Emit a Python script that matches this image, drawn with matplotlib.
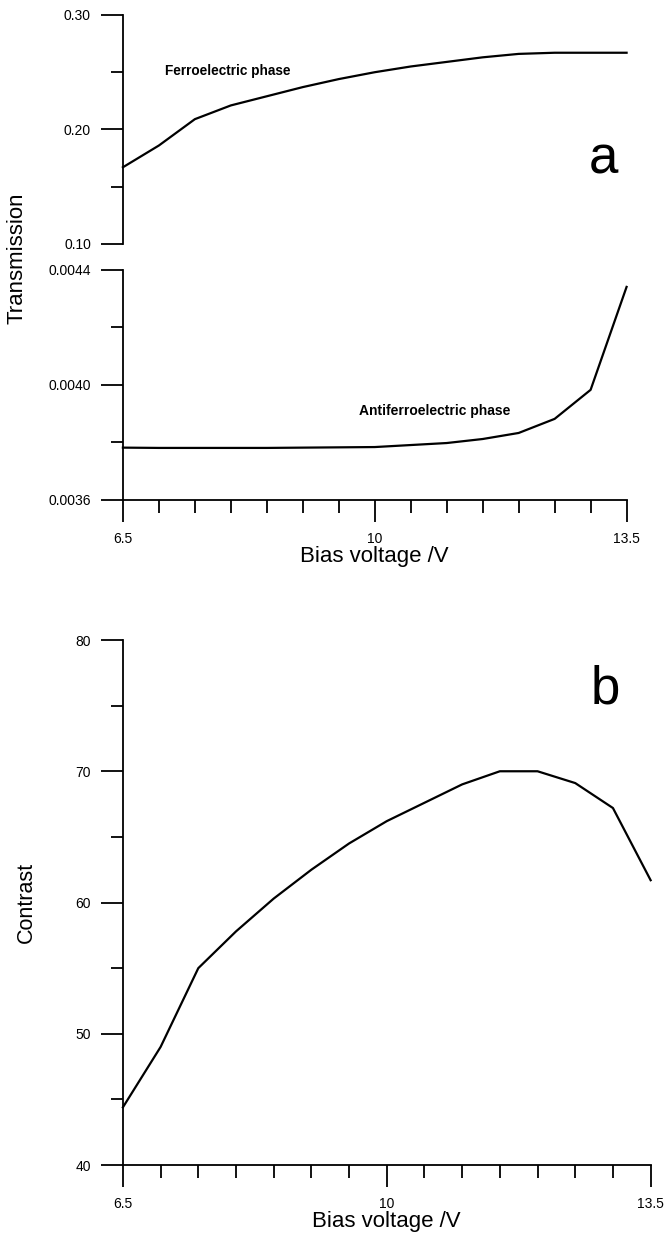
import matplotlib
matplotlib.use('Agg')
import matplotlib.pyplot as plt
from matplotlib.ticker import FixedLocator, MultipleLocator

plt.rcParams['font.family'] = ['Liberation Sans', 'DejaVu Sans']

# bias voltage steps (V)
voltage = [6.5, 7.0, 7.5, 8.0, 8.5, 9.0, 9.5, 10.0, 10.5, 11.0, 11.5, 12.0, 12.5, 13.0, 13.5]

# transmission in the two phases
ferro = [0.167, 0.186, 0.209, 0.221, 0.229, 0.237, 0.244, 0.250, 0.255, 0.259,
         0.263, 0.266, 0.267, 0.267, 0.267]
antiferro = [0.003782, 0.003781, 0.003781, 0.003781, 0.003781, 0.003782, 0.003783, 0.003784,
             0.003791, 0.003798, 0.003812, 0.003833, 0.003882, 0.003983, 0.004341]

# contrast ratio
contrast = [44.4, 49.0, 55.0, 57.8, 60.3, 62.5, 64.5, 66.2, 67.6, 69.0,
            70.0, 70.0, 69.1, 67.2, 61.7]

x_major = [6.5, 10, 13.5]
x_labels = ['6.5', '10', '13.5']

fig = plt.figure(figsize=(6.68, 12.36), dpi=100)
ax_top = fig.add_axes([0.184, 0.8026, 0.754, 0.1853])
ax_mid = fig.add_axes([0.184, 0.5955, 0.754, 0.1861])
ax_bot = fig.add_axes([0.184, 0.0574, 0.790, 0.4248])


def style_axes(ax, show_x=True):
    for side in ['top', 'right']:
        ax.spines[side].set_visible(False)
    ax.spines['left'].set_linewidth(1.3)
    ax.spines['bottom'].set_linewidth(1.3)
    ax.set_xlim(6.5, 13.5)
    ax.xaxis.set_major_locator(FixedLocator(x_major))
    ax.xaxis.set_minor_locator(MultipleLocator(0.5))
    ax.tick_params(which='major', direction='out', length=16, width=1.3, labelsize=10, pad=7)
    ax.tick_params(which='minor', direction='out', length=9, width=1.3)
    if show_x:
        ax.set_xticklabels(x_labels)
    else:
        ax.spines['bottom'].set_visible(False)
        ax.tick_params(axis='x', which='both', bottom=False, labelbottom=False)


# (a) transmission, ferroelectric part
style_axes(ax_top, show_x=False)
ax_top.plot(voltage, ferro, color='black', lw=1.6, clip_on=False)
ax_top.set_ylim(0.10, 0.30)
ax_top.yaxis.set_major_locator(FixedLocator([0.10, 0.20, 0.30]))
ax_top.yaxis.set_minor_locator(FixedLocator([0.15, 0.25]))
ax_top.set_yticklabels(['0.10', '0.20', '0.30'])
ax_top.text(7.08, 0.251, 'Ferroelectric phase', fontsize=9.8, fontweight='bold', va='center')
ax_top.text(0.955, 0.37, 'a', transform=ax_top.transAxes, fontsize=38, ha='center', va='center')

# (a) transmission, antiferroelectric part
style_axes(ax_mid)
ax_mid.plot(voltage, antiferro, color='black', lw=1.6, clip_on=False)
ax_mid.set_ylim(0.0036, 0.0044)
ax_mid.yaxis.set_major_locator(FixedLocator([0.0036, 0.0040, 0.0044]))
ax_mid.yaxis.set_minor_locator(FixedLocator([0.0038, 0.0042]))
ax_mid.set_yticklabels(['0.0036', '0.0040', '0.0044'])
ax_mid.text(9.78, 0.00391, 'Antiferroelectric phase', fontsize=10, fontweight='bold', va='center')
ax_mid.set_xlabel('Bias voltage /V', fontsize=16, labelpad=0)

fig.text(0.025, 0.791, 'Transmission', rotation=90, fontsize=16, ha='center', va='center')

# (b) contrast
style_axes(ax_bot)
ax_bot.plot(voltage, contrast, color='black', lw=1.6, clip_on=False)
ax_bot.set_ylim(40, 80)
ax_bot.yaxis.set_major_locator(MultipleLocator(10))
ax_bot.yaxis.set_minor_locator(MultipleLocator(5))
ax_bot.set_ylabel('Contrast', fontsize=15.5, labelpad=28)
ax_bot.set_xlabel('Bias voltage /V', fontsize=16, labelpad=0)
ax_bot.text(0.915, 0.905, 'b', transform=ax_bot.transAxes, fontsize=38, ha='center', va='center')

fig.savefig('out.png', dpi=100)
